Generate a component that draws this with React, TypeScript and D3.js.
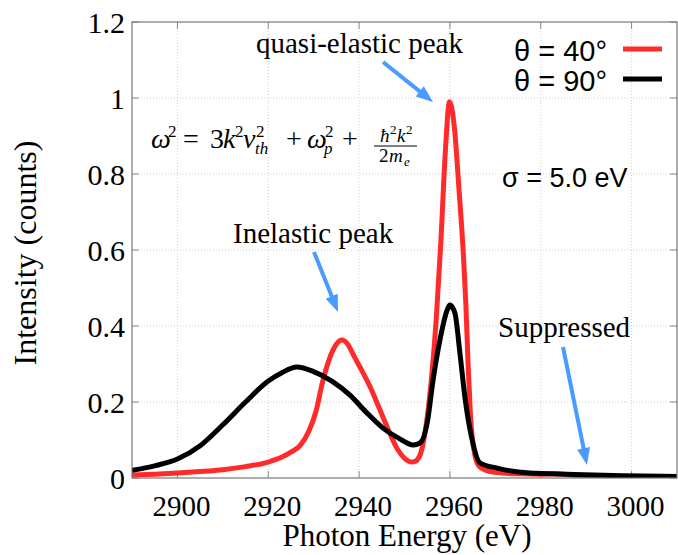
import React from "react";
import * as d3 from "d3";

// Photon energy (eV) and intensity (counts) samples for each scattering angle
const energy40 = [
  2890, 2895, 2900, 2905, 2910, 2915, 2920, 2923, 2925, 2927, 2929, 2930.5, 2932,
  2933.5, 2935, 2936.2, 2937.5, 2939, 2940.5, 2942.5, 2944.5, 2946.5, 2948.5, 2950,
  2951.5, 2952.5, 2953.8, 2955, 2956, 2957, 2958, 2959, 2959.9, 2961, 2962, 2963,
  2963.5, 2964, 2964.5, 2965.5, 2966.5, 2968, 2970, 2975, 2980, 2983, 2987, 2992, 2998,
];
const intensity40 = [
  0.008, 0.01, 0.013, 0.017, 0.022, 0.03, 0.042, 0.055, 0.068, 0.085, 0.125, 0.175, 0.255,
  0.315, 0.352, 0.363, 0.352, 0.318, 0.285, 0.238, 0.182, 0.125, 0.075, 0.052,
  0.042, 0.045, 0.075, 0.16, 0.27, 0.42, 0.62, 0.86, 0.99, 0.92, 0.76, 0.58,
  0.46, 0.3, 0.17, 0.06, 0.03, 0.02, 0.015, 0.011, 0.01, 0.011, 0.008, 0.005, 0.003,
];

const energy90 = [
  2890, 2895, 2900, 2905, 2910, 2915, 2920, 2923, 2926.3, 2930, 2934, 2938, 2941.5,
  2945, 2948.7, 2951.9, 2953.4, 2955, 2956.3, 2957.8, 2959.4, 2960, 2961.1, 2962.2,
  2963.3, 2964.9, 2966.6, 2970.4, 2977.6, 2980, 2987.5, 2998, 3010,
];
const intensity90 = [
  0.02, 0.032, 0.05, 0.085, 0.14, 0.2, 0.255, 0.277, 0.292, 0.28, 0.255, 0.218, 0.174,
  0.134, 0.105, 0.087, 0.092, 0.145, 0.258, 0.363, 0.442, 0.455, 0.434, 0.329,
  0.213, 0.1, 0.04, 0.026, 0.013, 0.012, 0.009, 0.006, 0.004,
];

const xTicks = [2900, 2920, 2940, 2960, 2980, 3000];
const yTicks = [0, 0.2, 0.4, 0.6, 0.8, 1, 1.2];
const yTickLabels = ["0", "0.2", "0.4", "0.6", "0.8", "1", "1.2"];

const seriesLabels = ["θ = 40°", "θ = 90°"];
const seriesColors = ["#ff2a2a", "#000000"];

const W = 678;
const H = 555;
const left = 132;
const right = 677;
const top = 22;
const bottom = 478;

const serif = "'Liberation Serif', 'Times New Roman', serif";
const sans = "'Liberation Sans', Arial, sans-serif";
const arrowBlue = "#4a9bff";

function Arrow({ x1, y1, x2, y2 }: { x1: number; y1: number; x2: number; y2: number }) {
  const ang = Math.atan2(y2 - y1, x2 - x1);
  const len = 17;
  const half = 6.5;
  const bx = x2 - len * Math.cos(ang);
  const by = y2 - len * Math.sin(ang);
  const px = -Math.sin(ang) * half;
  const py = Math.cos(ang) * half;
  return (
    <g>
      <line x1={x1} y1={y1} x2={bx + 2 * Math.cos(ang)} y2={by + 2 * Math.sin(ang)} stroke={arrowBlue} strokeWidth={4} />
      <polygon points={`${x2},${y2} ${bx + px},${by + py} ${bx - px},${by - py}`} fill={arrowBlue} />
    </g>
  );
}

// Pieces of the plasmon dispersion relation: [text, dx, dy, size, italic]
type Piece = [string, number, number, number, boolean];
const eqPieces: Piece[] = [
  ["ω", 0, 0, 28, true],
  ["2", 17, -11, 17, false],
  ["=", 32, 0, 28, false],
  ["3", 59, 0, 28, false],
  ["k", 72, 0, 28, true],
  ["2", 84, -11, 17, false],
  ["v", 92, 0, 28, true],
  ["2", 105, -11, 17, false],
  ["th", 104, 6, 17, true],
  ["+", 135, 0, 28, false],
  ["ω", 156, 0, 28, true],
  ["2", 174, -11, 17, false],
  ["p", 173, 6, 17, true],
  ["+", 191, 0, 28, false],
];

export default function App() {
  const x = d3.scaleLinear().domain([2890, 3010]).range([left, right]);
  const y = d3.scaleLinear().domain([0, 1.2]).range([bottom, top]);

  const line = d3
    .line<[number, number]>()
    .x((d) => x(d[0]))
    .y((d) => y(d[1]))
    .curve(d3.curveMonotoneX);

  const s40 = energy40.map((e, i) => [e, intensity40[i]] as [number, number]);
  const s90 = energy90.map((e, i) => [e, intensity90[i]] as [number, number]);

  const gridColor = "#d0d0d0";
  const tickColor = "#888";
  const tl = 7;

  return (
    <svg width={W} height={H} style={{ position: "absolute", left: 0, top: 0, background: "#fff" }}>
      <defs>
        <clipPath id="plot">
          <rect x={left} y={top} width={right - left} height={bottom - top} />
        </clipPath>
      </defs>

      {/* grid */}
      {xTicks.map((t) => (
        <line key={"gx" + t} x1={x(t)} x2={x(t)} y1={top} y2={bottom} stroke={gridColor} strokeWidth={1} strokeDasharray="1,2" />
      ))}
      {yTicks.slice(1, -1).map((t) => (
        <line key={"gy" + t} x1={left} x2={right} y1={y(t)} y2={y(t)} stroke={gridColor} strokeWidth={1} strokeDasharray="1,2" />
      ))}

      {/* mirrored inward ticks */}
      {xTicks.map((t) => (
        <g key={"tx" + t} stroke={tickColor} strokeWidth={1}>
          <line x1={x(t)} x2={x(t)} y1={bottom} y2={bottom - tl} />
          <line x1={x(t)} x2={x(t)} y1={top} y2={top + tl} />
        </g>
      ))}
      {yTicks.map((t) => (
        <g key={"ty" + t} stroke={tickColor} strokeWidth={1}>
          <line x1={left} x2={left + tl} y1={y(t)} y2={y(t)} />
          <line x1={right} x2={right - tl} y1={y(t)} y2={y(t)} />
        </g>
      ))}

      {/* curves */}
      <g clipPath="url(#plot)" fill="none" strokeLinejoin="round" strokeLinecap="round">
        <path d={line(s40) || ""} stroke={seriesColors[0]} strokeWidth={5} />
        <path d={line(s90) || ""} stroke={seriesColors[1]} strokeWidth={5} />
      </g>

      {/* frame */}
      <rect x={left} y={top} width={right - left} height={bottom - top} fill="none" stroke="#777" strokeWidth={1.2} />

      {/* tick labels */}
      {xTicks.map((t) => (
        <text key={"lx" + t} x={x(t) + 4} y={bottom + 38} textAnchor="middle" fontFamily={serif} fontSize={29} fill="#000">
          {t}
        </text>
      ))}
      {yTicks.map((t, i) => (
        <text key={"ly" + t} x={125} y={y(t) + 11} textAnchor="end" fontFamily={serif} fontSize={30} fill="#000">
          {yTickLabels[i]}
        </text>
      ))}

      {/* axis titles */}
      <text x={407} y={546} textAnchor="middle" fontFamily={serif} fontSize={31} fill="#000">
        Photon Energy (eV)
      </text>
      <text transform="translate(36,253) rotate(-90)" textAnchor="middle" fontFamily={serif} fontSize={32} fill="#000">
        Intensity (counts)
      </text>

      {/* legend */}
      {seriesLabels.map((lab, i) => (
        <g key={lab}>
          <text x={607} y={61 + i * 30} textAnchor="end" fontFamily={sans} fontSize={29} fill="#000">
            {lab}
          </text>
          <line x1={623} x2={662} y1={49 + i * 30} y2={49 + i * 30} stroke={seriesColors[i]} strokeWidth={5} />
        </g>
      ))}

      <text x={502} y={187} fontFamily={sans} fontSize={27} fill="#000">
        σ = 5.0 eV
      </text>

      {/* annotations */}
      <text x={256} y={53} fontFamily={serif} fontSize={29} fill="#000">
        quasi-elastic peak
      </text>
      <Arrow x1={383} y1={62} x2={433} y2={102} />
      <text x={233} y={243} fontFamily={serif} fontSize={29} fill="#000">
        Inelastic peak
      </text>
      <Arrow x1={314} y1={252} x2={338} y2={312} />
      <text x={498} y={337} fontFamily={serif} fontSize={29} fill="#000">
        Suppressed
      </text>
      <Arrow x1={563} y1={347} x2={587} y2={465} />

      {/* dispersion relation */}
      <g fontFamily={serif} fill="#000">
        <text>
          {eqPieces.map(([s, dx, dy, fs, it], i) => (
            <tspan key={"eq" + i} x={151 + dx} y={148 + dy} fontSize={fs} fontStyle={it ? "italic" : "normal"}>
              {s}
            </tspan>
          ))}
          <tspan x={380} y={142} fontSize={19} fontStyle="italic">ħ</tspan>
          <tspan x={390} y={134} fontSize={13}>2</tspan>
          <tspan x={397} y={142} fontSize={19} fontStyle="italic">k</tspan>
          <tspan x={406} y={134} fontSize={13}>2</tspan>
          <tspan x={379} y={162} fontSize={19}>2</tspan>
          <tspan x={389} y={162} fontSize={19} fontStyle="italic">m</tspan>
          <tspan x={404} y={166} fontSize={13} fontStyle="italic">e</tspan>
        </text>
        <line x1={374} x2={417} y1={146} y2={146} stroke="#000" strokeWidth={1} />
      </g>
    </svg>
  );
}
